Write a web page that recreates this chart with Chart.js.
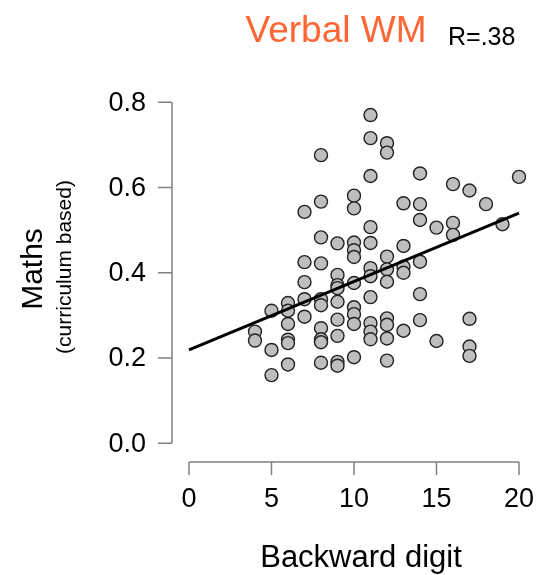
<!DOCTYPE html>
<html>
<head>
<meta charset="utf-8">
<script src="https://cdn.jsdelivr.net/npm/chart.js@4.4.1/dist/chart.umd.min.js"></script>
<style>
  html, body { margin: 0; padding: 0; background: #fff; }
  #wrap { width: 558px; height: 575px; }
</style>
</head>
<body>
<div id="wrap"><canvas id="verbalChart" width="558" height="575"></canvas></div>
<script>
// backward digit score (x) and maths score (y)
const digitScores = [
  4, 4,
  5, 5, 5,
  6, 6, 6, 6, 6, 6,
  7, 7, 7, 7, 7,
  8, 8, 8, 8, 8, 8, 8, 8, 8, 8,
  9, 9, 9, 9, 9, 9, 9, 9, 9,
  10, 10, 10, 10, 10, 10, 10, 10, 10, 10,
  11, 11, 11, 11, 11, 11, 11, 11, 11, 11, 11,
  12, 12, 12, 12, 12, 12, 12, 12, 12,
  13, 13, 13, 13, 13,
  14, 14, 14, 14, 14, 14,
  15, 15,
  16, 16, 16,
  17, 17, 17, 17,
  18, 19, 20
];
const mathsScores = [
  0.262, 0.241,
  0.311, 0.219, 0.160,
  0.329, 0.311, 0.280, 0.243, 0.235, 0.185,
  0.543, 0.425, 0.378, 0.338, 0.297,
  0.676, 0.567, 0.483, 0.422, 0.338, 0.324, 0.270, 0.244, 0.237, 0.189,
  0.469, 0.395, 0.371, 0.364, 0.332, 0.290, 0.252, 0.191, 0.182,
  0.581, 0.551, 0.471, 0.453, 0.437, 0.376, 0.319, 0.303, 0.280, 0.202,
  0.770, 0.716, 0.627, 0.507, 0.470, 0.411, 0.392, 0.343, 0.282, 0.262, 0.244,
  0.704, 0.682, 0.438, 0.408, 0.379, 0.293, 0.278, 0.246, 0.194,
  0.563, 0.463, 0.414, 0.400, 0.264,
  0.633, 0.561, 0.524, 0.426, 0.350, 0.289,
  0.506, 0.240,
  0.608, 0.517, 0.489,
  0.593, 0.292, 0.227, 0.205,
  0.561, 0.514, 0.625
];
// fitted line ends as drawn
const fitX = [0, 20];
const fitY = [0.219, 0.540];

const xTicks = [0, 5, 10, 15, 20];
const yTicks = [0.0, 0.2, 0.4, 0.6, 0.8];
const yTickLabels = ['0.0', '0.2', '0.4', '0.6', '0.8'];

const titleText = 'Verbal WM';
const rText = 'R=.38';
const xTitle = 'Backward digit';
const yTitle = 'Maths';
const ySubTitle = '(curriculum based)';

const FONT = '"Liberation Sans", Arial, Helvetica, sans-serif';

const points = digitScores.map((d, i) => ({ x: d, y: mathsScores[i] }));
const fitPoints = fitX.map((d, i) => ({ x: d, y: fitY[i] }));

// R style detached axes + text
const rAxes = {
  id: 'rAxes',
  afterDraw(chart) {
    const ctx = chart.ctx;
    const xs = chart.scales.x, ys = chart.scales.y;
    const area = chart.chartArea;
    ctx.save();
    ctx.strokeStyle = '#808080';
    ctx.lineWidth = 1.5;

    // y axis
    const yLeft = area.left;
    const yTop = ys.getPixelForValue(yTicks[yTicks.length - 1]);
    const yBot = ys.getPixelForValue(yTicks[0]);
    ctx.beginPath();
    ctx.moveTo(yLeft, yTop);
    ctx.lineTo(yLeft, yBot);
    yTicks.forEach(t => {
      const py = ys.getPixelForValue(t);
      ctx.moveTo(yLeft, py);
      ctx.lineTo(yLeft - 14, py);
    });
    ctx.stroke();

    // x axis
    const xBase = area.bottom;
    const xL = xs.getPixelForValue(xTicks[0]);
    const xR = xs.getPixelForValue(xTicks[xTicks.length - 1]);
    ctx.beginPath();
    ctx.moveTo(xL, xBase);
    ctx.lineTo(xR, xBase);
    xTicks.forEach(t => {
      const px = xs.getPixelForValue(t);
      ctx.moveTo(px, xBase);
      ctx.lineTo(px, xBase + 13);
    });
    ctx.stroke();

    ctx.fillStyle = '#000';
    ctx.font = '27px ' + FONT;
    ctx.textAlign = 'right';
    ctx.textBaseline = 'middle';
    yTicks.forEach((t, i) => {
      ctx.fillText(yTickLabels[i], yLeft - 26, ys.getPixelForValue(t) + 1);
    });
    ctx.textAlign = 'center';
    ctx.textBaseline = 'top';
    xTicks.forEach(t => {
      ctx.fillText(String(t), xs.getPixelForValue(t), xBase + 24);
    });

    // axis titles
    ctx.font = '31px ' + FONT;
    ctx.textBaseline = 'alphabetic';
    ctx.fillText(xTitle, 361, 567);

    ctx.save();
    ctx.translate(42, 269);
    ctx.rotate(-Math.PI / 2);
    ctx.font = '30px ' + FONT;
    ctx.fillText(yTitle, 0, 0);
    ctx.restore();

    ctx.save();
    ctx.translate(71, 267);
    ctx.rotate(-Math.PI / 2);
    ctx.font = '21px ' + FONT;
    ctx.fillText(ySubTitle, 0, 0);
    ctx.restore();

    // title
    ctx.font = '37px ' + FONT;
    ctx.fillStyle = '#ff6633';
    ctx.textAlign = 'center';
    ctx.fillText(titleText, 336, 42);
    ctx.font = '25px ' + FONT;
    ctx.fillStyle = '#000';
    ctx.textAlign = 'left';
    ctx.fillText(rText, 448, 45);
    ctx.restore();
  }
};

new Chart(document.getElementById('verbalChart'), {
  type: 'scatter',
  data: {
    datasets: [
      {
        label: 'fit',
        data: fitPoints,
        showLine: true,
        borderColor: '#000',
        borderWidth: 3,
        pointRadius: 0,
        fill: false,
        order: 0
      },
      {
        label: 'children',
        data: points,
        pointRadius: 6.5,
        pointBackgroundColor: '#bebebe',
        pointBorderColor: '#222',
        pointBorderWidth: 1.4,
        order: 1
      }
    ]
  },
  options: {
    responsive: false,
    animation: false,
    devicePixelRatio: 1,
    layout: { padding: { left: 172, right: 23, top: 90, bottom: 113 } },
    plugins: { legend: { display: false }, tooltip: { enabled: false } },
    scales: {
      x: { type: 'linear', display: false, min: -1.03, max: 20.97 },
      y: { type: 'linear', display: false, min: -0.0439, max: 0.8288 }
    }
  },
  plugins: [rAxes]
});
</script>
</body>
</html>
